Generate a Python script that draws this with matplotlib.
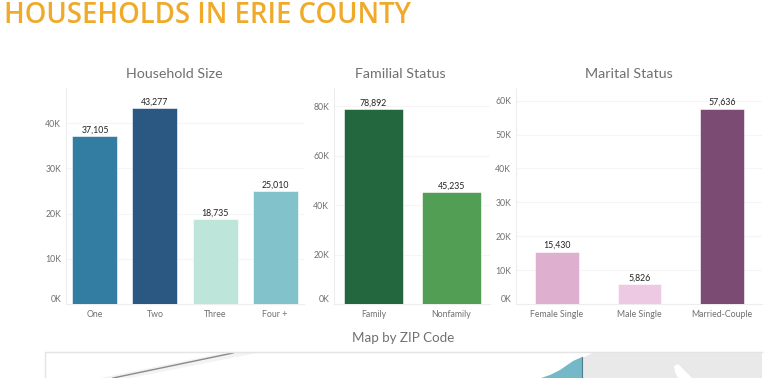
import matplotlib
matplotlib.use('Agg')
import matplotlib.pyplot as plt
from matplotlib.patches import Polygon

# Chart values
size_labels = ['One', 'Two', 'Three', 'Four +']
size_values = [37105, 43277, 18735, 25010]
size_colors = ['#347DA2', '#2B5882', '#BDE5D9', '#82C3CB']
size_ticks = [0, 10000, 20000, 30000, 40000]

family_labels = ['Family', 'Nonfamily']
family_values = [78892, 45235]
family_colors = ['#23673E', '#539E55']
family_ticks = [0, 20000, 40000, 60000, 80000]

marital_labels = ['Female Single', 'Male Single', 'Married-Couple']
marital_values = [15430, 5826, 57636]
marital_colors = ['#DFAFCF', '#EEC9E4', '#7B4B74']
marital_ticks = [0, 10000, 20000, 30000, 40000, 50000, 60000]

# Outline of the cut-off map at the bottom, in figure pixels
map_land = [(582, 358), (595, 352), (762, 352), (762, 378), (582, 378)]
map_zip = [(541, 378), (550, 375), (560, 370), (573, 361), (582, 357), (582, 378)]
map_lake = [(674, 366), (678, 364), (682, 368), (686, 372), (692, 378), (678, 378), (675, 372)]
map_shadow = [(100, 378), (228, 352), (262, 352), (130, 378)]
map_road = [(113, 378), (233, 353)]

W, H = 768, 378
fig = plt.figure(figsize=(W / 100, H / 100), dpi=100)
plt.rcParams['font.family'] = ['Lato', 'DejaVu Sans']


def make_axes(left, right, top, bottom):
    return fig.add_axes([left / W, 1 - bottom / H, (right - left) / W, (bottom - top) / H])


def k_label(v):
    return f'{int(v / 1000)}K'


def bar_panel(box, title, title_x, labels, values, colors, ticks, ymax, xlim, width):
    ax = make_axes(*box)
    x = list(range(len(values)))
    ax.bar(x, values, width=width, color=colors, edgecolor='white', linewidth=0.4, zorder=3)
    ax.set_xlim(*xlim)
    ax.set_ylim(0, ymax)
    ax.set_yticks(ticks)
    ax.set_yticklabels([k_label(t) for t in ticks])
    # the 0K label sits just above the baseline
    ax.get_yticklabels()[0].set_verticalalignment('bottom')
    ax.set_xticks(x)
    ax.set_xticklabels(labels)
    ax.tick_params(axis='both', length=0, labelsize=6.3, labelcolor='#707070')
    ax.tick_params(axis='y', pad=3.5)
    ax.tick_params(axis='x', pad=4.5)
    ax.grid(axis='y', color='#F5F5F5', linewidth=0.8, zorder=0)
    for s in ['top', 'right']:
        ax.spines[s].set_visible(False)
    for s in ['left', 'bottom']:
        ax.spines[s].set_color('#EDEDED')
        ax.spines[s].set_linewidth(0.8)
    for i, v in enumerate(values):
        ax.annotate(f'{v:,}', (i, v), xytext=(0, 1.2), textcoords='offset points',
                    ha='center', va='bottom', fontsize=6.3, color='#222222', zorder=4)
    fig.text(title_x / W, 1 - 73.5 / H, title, ha='center', va='center', fontsize=10.3,
             color='#707070')
    return ax


bar_panel((66, 304, 88, 304), 'Household Size', 174.5, size_labels, size_values, size_colors,
          size_ticks, 216 / 45.2 * 10000, (-0.483, 3.483), 0.75)
bar_panel((334, 490, 88, 304), 'Familial Status', 400, family_labels, family_values, family_colors,
          family_ticks, 216 / 49.4 * 20000, (-0.506, 1.494), 0.756)
bar_panel((516, 762, 88, 304), 'Marital Status', 629, marital_labels, marital_values, marital_colors,
          marital_ticks, 216 / 33.9 * 10000, (-0.497, 2.485), 0.533)

fig.text(4.5 / W, 1 - 23 / H, 'HOUSEHOLDS IN ERIE COUNTY', ha='left', va='baseline',
         fontsize=19.85, color='#EFAA2A', family=['Open Sans', 'DejaVu Sans'], fontweight='semibold')
fig.text(403 / W, 1 - 338 / H, 'Map by ZIP Code', ha='center', va='center', fontsize=9.6,
         color='#707070')

# Map panel, clipped by the bottom of the image
bg = fig.add_axes([0, 0, 1, 1], zorder=-1)
bg.set_xlim(0, W)
bg.set_ylim(H, 0)
bg.axis('off')
bg.add_patch(Polygon(map_shadow, closed=True, color='#F3F3F3', lw=0))
bg.plot(*zip(*map_road), color='#8A8A8A', lw=1.0)
bg.add_patch(Polygon(map_land, closed=True, color='#E9E9E9', lw=0))
bg.add_patch(Polygon(map_lake, closed=True, color='white', lw=0))
bg.add_patch(Polygon(map_zip, closed=True, facecolor='#75B8C8', edgecolor='none'))
bg.plot([582, 582], [357, 378], color='#4F7F8C', lw=0.8)
bg.plot([45, 45, 762], [378, 352, 352], color='#E4E4E4', lw=1.0)

fig.savefig('out.png', dpi=100)
